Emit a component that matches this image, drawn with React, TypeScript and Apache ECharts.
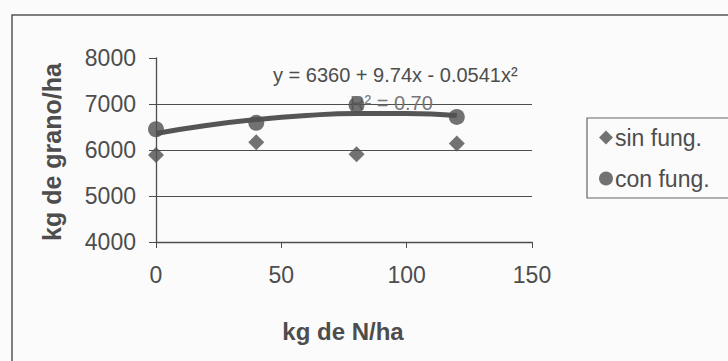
import React, { useEffect, useRef } from "react";
import * as echarts from "echarts";

const xTicks = [0, 50, 100, 150];
const doses = [0, 40, 80, 120];
const sinFung = [5890, 6170, 5910, 6140];
const conFung = [6450, 6590, 6980, 6720];
const trendX = [0, 20, 40, 60, 80, 100, 120];
const trendY = [6360, 6533, 6663, 6750, 6793, 6793, 6750];
const legendNames = ["sin fung.", "con fung."];
const equationText = "y = 6360 + 9.74x - 0.0541x²";
const r2Text = "R² = 0.70";

const FONT = "'Liberation Sans', Arial, sans-serif";
const INK = "#4d4d4d";

export default function App() {
  const ref = useRef<HTMLDivElement>(null);
  useEffect(() => {
    if (!ref.current) return;
    const chart = echarts.init(ref.current, undefined, { renderer: "svg" });
    chart.setOption({
      animation: false,
      backgroundColor: "#fbfbfb",
      textStyle: { fontFamily: FONT },
      grid: { left: 156, right: 196, top: 58, bottom: 119, containLabel: false },
      xAxis: {
        type: "value",
        min: xTicks[0],
        max: xTicks[xTicks.length - 1],
        interval: 50,
        axisLine: { show: true, lineStyle: { color: INK, width: 1.3 } },
        axisTick: { show: true, inside: false, length: 6, lineStyle: { color: INK } },
        axisLabel: { margin: 21, fontSize: 23, color: INK, fontFamily: FONT },
        splitLine: { show: false },
      },
      yAxis: {
        type: "value",
        min: 4000,
        max: 8000,
        interval: 1000,
        axisLine: { show: true, lineStyle: { color: INK, width: 1.3 } },
        axisTick: { show: true, inside: false, length: 7, lineStyle: { color: INK } },
        axisLabel: {
          margin: 20,
          fontSize: 23,
          color: INK,
          fontFamily: FONT,
          formatter: (v: number) => String(v),
        },
        splitLine: { show: true, showMaxLine: false, lineStyle: { color: INK, width: 1.2 } },
      },
      legend: {
        data: [
          { name: legendNames[0], icon: "diamond" },
          { name: legendNames[1], icon: "circle" },
        ],
        orient: "vertical",
        left: 594,
        top: 121,
        itemWidth: 14,
        itemHeight: 14,
        itemGap: 18,
        textStyle: { fontSize: 23, color: INK, fontFamily: FONT, padding: [0, 0, 0, -3] },
      },
      graphic: [
        {
          type: "rect",
          shape: { x: 12, y: 15, width: 800, height: 400 },
          style: { fill: "none", stroke: "#555", lineWidth: 1.5 },
          silent: true,
        },
        {
          type: "rect",
          shape: { x: 587, y: 118, width: 200, height: 80 },
          style: { fill: "none", stroke: "#666", lineWidth: 1.2 },
          silent: true,
        },
        {
          type: "text",
          x: 52,
          y: 152,
          rotation: Math.PI / 2,
          style: {
            text: "kg de grano/ha",
            font: `bold 25px ${FONT}`,
            fill: INK,
            align: "center",
            verticalAlign: "middle",
          },
        },
        {
          type: "text",
          x: 343,
          y: 331,
          style: {
            text: "kg de N/ha",
            font: `bold 24px ${FONT}`,
            fill: INK,
            align: "center",
            verticalAlign: "middle",
          },
        },
        {
          type: "text",
          x: 273,
          y: 75,
          style: {
            text: equationText,
            font: `20px ${FONT}`,
            fill: INK,
            align: "left",
            verticalAlign: "middle",
          },
        },
        {
          type: "text",
          x: 350,
          y: 103,
          z: 1,
          style: {
            text: r2Text,
            font: `20px ${FONT}`,
            fill: "#777",
            align: "left",
            verticalAlign: "middle",
          },
        },
      ],
      series: [
        {
          name: "trend",
          type: "line",
          data: trendX.map((x, i) => [x, trendY[i]]),
          smooth: true,
          showSymbol: false,
          symbol: "none",
          lineStyle: { color: "#555", width: 5 },
          z: 3,
          silent: true,
        },
        {
          name: legendNames[0],
          type: "scatter",
          symbol: "diamond",
          symbolSize: 16,
          data: doses.map((x, i) => [x, sinFung[i]]),
          itemStyle: { color: "#505050" },
          z: 4,
        },
        {
          name: legendNames[1],
          type: "scatter",
          symbol: "circle",
          symbolSize: 16,
          data: doses.map((x, i) => [x, conFung[i]]),
          itemStyle: { color: "#505050" },
          z: 4,
        },
      ],
    });
    return () => chart.dispose();
  }, []);
  return (
    <div
      ref={ref}
      style={{ position: "fixed", left: 0, top: 0, width: 728, height: 361 }}
    />
  );
}
